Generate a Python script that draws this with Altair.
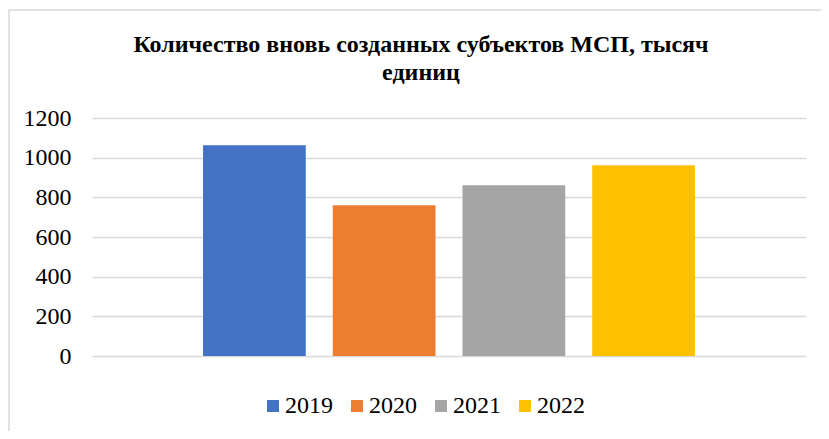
import altair as alt
import pandas as pd

years = ["2019", "2020", "2021", "2022"]
values = [1062, 760, 861, 962]
colors = ["#4472C4", "#ED7D31", "#A5A5A5", "#FFC000"]
y_ticks = [0, 200, 400, 600, 800, 1000, 1200]
title_lines = ["Количество вновь созданных субъектов МСП, тысяч", "единиц"]

df = pd.DataFrame({"year": years, "value": values})
frame_df = pd.DataFrame({"k": [0]})

FONT = "Liberation Serif"

bars = alt.Chart(df).mark_bar().encode(
    x=alt.X("year:N", axis=None,
            scale=alt.Scale(paddingInner=0.208, paddingOuter=0.856)),
    y=alt.Y("value:Q",
            scale=alt.Scale(domain=[0, 1200], nice=False),
            axis=alt.Axis(values=y_ticks, title=None, domain=False, ticks=False,
                          format="d",
                          labelPadding=21, labelFontSize=24, labelFont=FONT,
                          labelColor="#000000", gridColor="#d9d9d9", gridWidth=1.5)),
    color=alt.Color("year:N",
                    scale=alt.Scale(domain=years, range=colors),
                    legend=alt.Legend(title=None, orient="none", direction="horizontal",
                                      legendX=169, legendY=276,
                                      symbolType="square", symbolSize=144,
                                      symbolStrokeWidth=0,
                                      labelFontSize=24, labelFont=FONT,
                                      labelColor="#000000", labelOffset=0,
                                      columnPadding=12)),
)

frame = alt.Chart(frame_df).mark_rect(fill=None, stroke="#d9d9d9", strokeWidth=1.5).encode(
    x=alt.value(-83), x2=alt.value(760),
    y=alt.value(-108), y2=alt.value(330),
)

chart = alt.layer(frame, bars).properties(
    width=714, height=238,
    autosize=alt.AutoSizeParams(type="none"),
    padding={"left": 84, "top": 110, "right": 15, "bottom": 75},
    title=alt.Title(title_lines, font=FONT, fontSize=24, fontWeight="bold",
                    color="#000000", anchor="middle", dx=-28, offset=-76,
                    lineHeight=28, frame="group"),
).configure_view(stroke=None).configure_legend(labelFont=FONT)

chart.save("out.html", embed_options={"renderer": "svg", "actions": False})
